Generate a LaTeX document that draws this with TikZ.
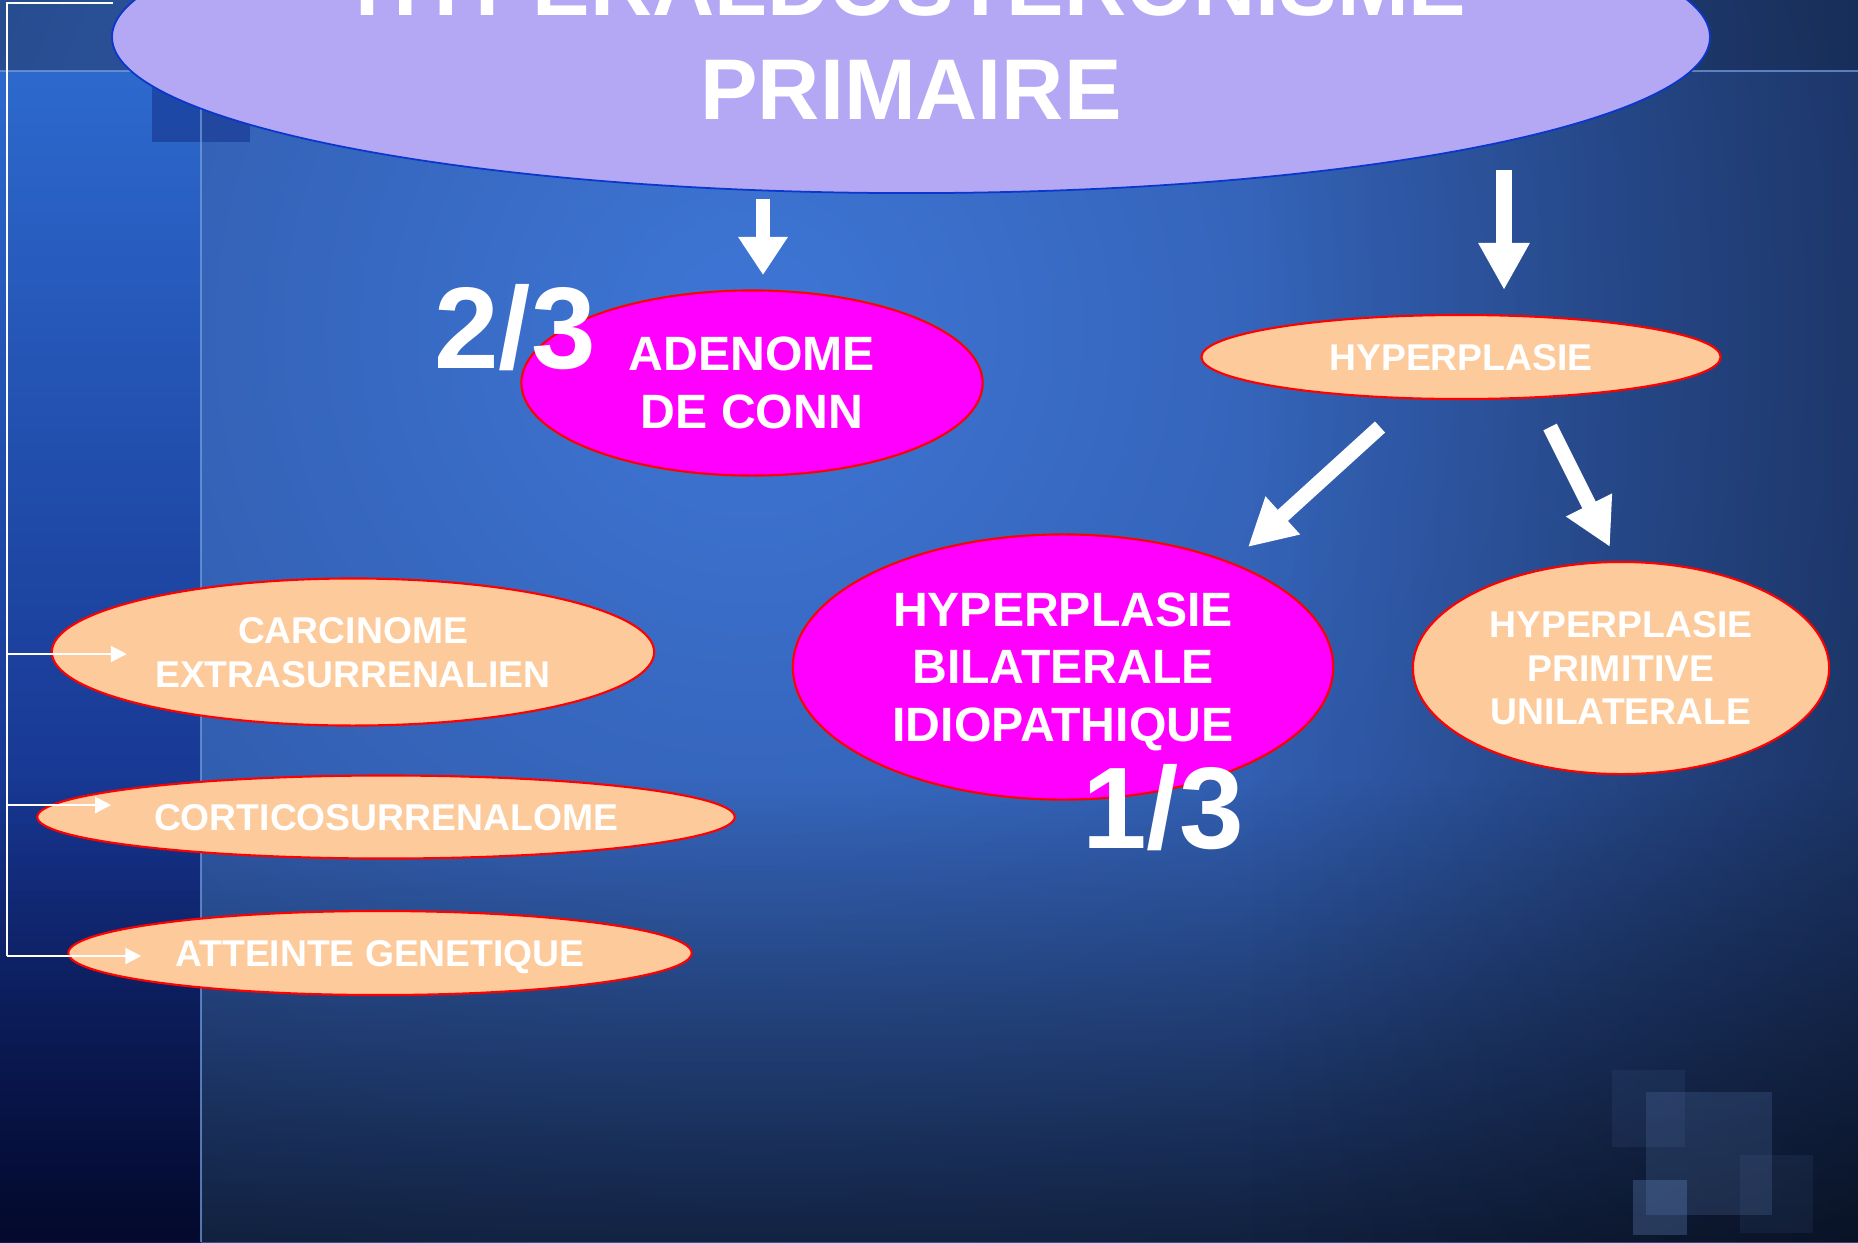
\documentclass[tikz,border=0pt]{standalone}
\usepackage{fontspec}
\setmainfont{Liberation Sans}
\usetikzlibrary{arrows.meta,shapes.geometric,calc,fadings}
\definecolor{lilas}{RGB}{180,168,245}
\definecolor{bordbleu}{RGB}{10,55,205}
\definecolor{peche}{RGB}{253,202,155}
\definecolor{fuchsia}{RGB}{255,0,255}
\definecolor{fondclair}{RGB}{62,118,214}
\definecolor{fondsombre}{RGB}{16,28,72}
\definecolor{trait}{RGB}{120,160,225}
\definecolor{bandehaut}{RGB}{45,105,205}
\definecolor{bandemil}{RGB}{30,70,190}
\definecolor{bandebas}{RGB}{10,25,110}
\definecolor{carre}{RGB}{25,60,150}
\tikzset{
  bulle/.style={ellipse,draw=red,line width=0.6pt,inner sep=0pt,text depth=0pt,text=white,align=center},
  rose/.style={bulle,fill=fuchsia,font=\bfseries\fontsize{13.7}{16.4}\selectfont},
  abricot/.style={bulle,fill=peche,font=\bfseries\fontsize{10.6}{12.5}\selectfont},
  chiffre/.style={text=white,inner sep=0pt,font=\bfseries\fontsize{33}{33}\selectfont},
  fleche/.style={white,line width=1.6mm,-{Triangle[length=4.7mm,width=4.8mm]}},
  fil/.style={white,line width=0.6pt},
  filfl/.style={fil,-{Triangle[length=1.6mm,width=1.6mm]}},
}
\begin{document}
\begin{tikzpicture}[x=0.01cm,y=-0.01cm]
  \useasboundingbox (0,0) rectangle (1858,1242);
  \begin{scope}
    \clip (0,0) rectangle (1858,1242);
    \fill[fondsombre] (0,0) rectangle (1858,1242);
    \shade[inner color=fondclair,outer color=fondsombre] (750,330) circle (26cm);
    \shade[top color=bandehaut,middle color=bandemil,bottom color=bandebas] (0,71) rectangle (201,1242);
    \fill[black,fill opacity=0.6,path fading=north] (0,780) rectangle (1858,1242);
    \fill[black,fill opacity=0.3,path fading=west] (1250,0) rectangle (1858,1242);
    \fill[black,fill opacity=0.15] (0,0) rectangle (1858,71);
    \fill[carre,fill opacity=0.7] (152,71) rectangle (250,142);
    \draw[trait,opacity=0.7,line width=0.6pt] (0,71) -- (1858,71);
    \draw[trait,opacity=0.7,line width=0.6pt] (201,71) -- (201,1242);
    \fill[trait,fill opacity=0.08] (1612,1070) rectangle (1685,1147);
    \fill[trait,fill opacity=0.16] (1646,1092) rectangle (1772,1215);
    \fill[trait,fill opacity=0.08] (1740,1155) rectangle (1813,1233);
    \fill[trait,fill opacity=0.25] (1633,1180) rectangle (1687,1235);
  \end{scope}

  \node[ellipse,draw=bordbleu,line width=0.5pt,fill=lilas,inner sep=0pt,minimum width=15.97cm,minimum height=3.12cm,
    text=white,align=center,font=\bfseries\fontsize{24.5}{29.6}\selectfont] (hyper) at (911,37) {HYPERALDOSTERONISME\\PRIMAIRE};
  \node[rose,minimum width=4.61cm,minimum height=1.85cm] (conn) at (752,383) {ADENOME\\DE CONN};
  \node[abricot,minimum width=5.19cm,minimum height=0.84cm] (hyperpl) at (1461,357) {HYPERPLASIE};
  \node[rose,minimum width=5.40cm,minimum height=2.65cm] (bilat) at (1063,667) {HYPERPLASIE\\BILATERALE\\IDIOPATHIQUE};
  \node[abricot,minimum width=4.16cm,minimum height=2.12cm] (unilat) at (1621,668) {HYPERPLASIE\\PRIMITIVE\\UNILATERALE};
  \node[abricot,minimum width=6.02cm,minimum height=1.47cm] (carc) at (353,652) {CARCINOME\\EXTRASURRENALIEN};
  \node[abricot,minimum width=6.97cm,minimum height=0.83cm] (cortico) at (386,817) {CORTICOSURRENALOME};
  \node[abricot,minimum width=6.23cm,minimum height=0.84cm] (gene) at (380,953) {ATTEINTE GENETIQUE};
  \node[chiffre] (deuxtiers) at (515,328) {2/3};
  \node[chiffre] (untiers) at (1163,808) {1/3};

  \coordinate (f1a) at (763,199); \coordinate (f1b) at (763,275);
  \coordinate (f2a) at (1504,170); \coordinate (f2b) at (1504,290);
  \coordinate (f3a) at (1380,427); \coordinate (f3b) at (1248,547);
  \coordinate (f4a) at (1550,427); \coordinate (f4b) at (1610,547);
  \draw[fleche,line width=1.4mm,-{Triangle[length=3.8mm,width=4.7mm]}] (f1a) -- (f1b);
  \draw[fleche] (f2a) -- (f2b);
  \draw[fleche,line width=1.5mm] (f3a) -- (f3b);
  \draw[fleche,line width=1.5mm] (f4a) -- (f4b);

  \coordinate (brA) at (113,3); \coordinate (brB) at (7,956);
  \coordinate (br1) at (7,654); \coordinate (br2) at (7,805);
  \draw[fil] (brA) -| (brB);
  \draw[filfl] (br1) -- ($(carc.west)+(76,2)$);
  \draw[filfl] (br2) -- ($(cortico.west)+(75,-12)$);
  \draw[filfl] (brB) -- ($(gene.west)+(74,3)$);
\end{tikzpicture}
\end{document}
